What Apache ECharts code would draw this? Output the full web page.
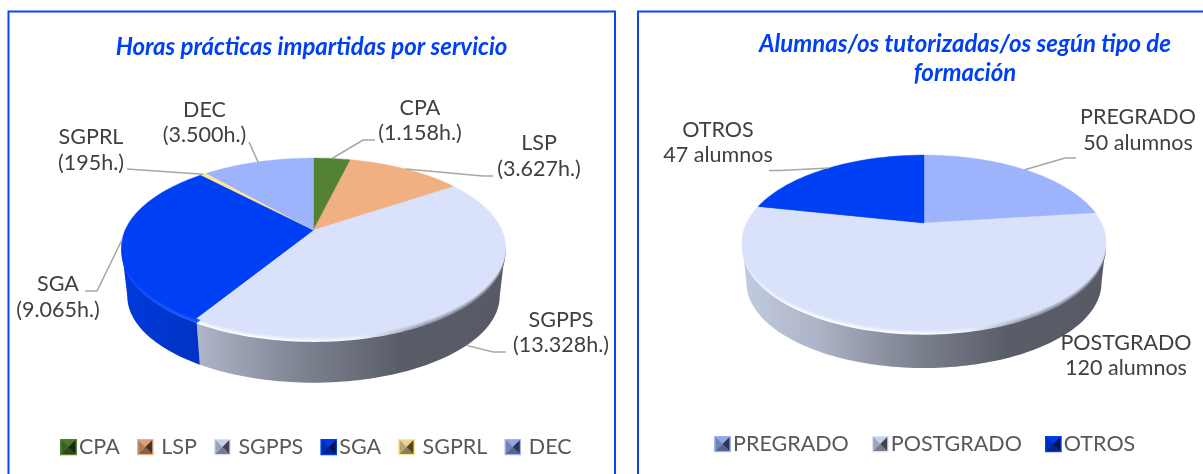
<!DOCTYPE html>
<html>
<head>
<meta charset="utf-8">
<style>html,body{margin:0;padding:0;background:#fff;overflow:hidden}#c{width:1203px;height:474px}</style>
<script src="https://cdn.jsdelivr.net/npm/echarts@6/dist/echarts.min.js"></script>
</head>
<body>
<div id="c"></div>
<script>
// ---- data ----
var serviceNames = ['CPA', 'LSP', 'SGPPS', 'SGA', 'SGPRL', 'DEC'];
var serviceHours = [1158, 3627, 13328, 9065, 195, 3500];
var trainingNames = ['PREGRADO', 'POSTGRADO', 'OTROS'];
var trainingStudents = [50, 120, 47];
var titleLeft = 'Horas prácticas impartidas por servicio';
var titleRight = 'Alumnas/os tutorizadas/os según tipo de\nformación';

// ---- styles ----
var serviceColors = ['#548235', '#F0B082', '#D9E2FA', '#0040F4', '#FFE699', '#9DB4FC'];
var trainingColors = ['#9DB4FC', '#D9E2FA', '#0040F4'];
var FONT = 'Lato';
var BLUE = '#0040F4';
var LABEL_SIZE = 21.5;

// ---- layout: perspective disc, label anchors and leader elbows ----
var pieA = { cx: 313.5, apexY: 230, Rx: 188.3, Ry: 86, p: 0.1955, s: 0.97, dz: 49, left: 121, right: 505 };
var pieB = { cx: 924, apexY: 223, Rx: 177.5, Ry: 83, p: 0.222, s: 0.975, dz: 41, left: 742, right: 1106 };
var serviceLabelAt = [[420, 120.5], [539, 156], [561, 332.5], [58, 297], [91, 150], [204.5, 122.5]];
var serviceLeaders = [
  [[363, 140], [375, 140]], [[483, 176], [493, 176]], [[493, 352], [506, 352]],
  [[97, 291], [85, 291]], [[127, 169]], [[249, 142]]
];
var serviceLeaderOnBase = [false, false, true, false, false, false];
var trainingLabelAt = [[1138, 130], [1126, 355.5], [718, 142.5]];
var trainingLeaders = [[[1065, 158], [1076, 158]], null, [[780, 170.5], [769, 170.5]]];
var trainingLeaderOnBase = [false, false, false];

function rgb(hex) {
  var n = parseInt(hex.slice(1), 16);
  return [(n >> 16) & 255, (n >> 8) & 255, n & 255];
}
function css(c) { return 'rgb(' + c.map(function (v) { return Math.max(0, Math.min(255, Math.round(v))); }).join(',') + ')'; }
function times(hex, f) { return css(rgb(hex).map(function (v) { return v * f; })); }
function plus(hex, a) { return css(rgb(hex).map(function (v) { return v + a; })); }

function project(pie, deg, shift, onBase) {
  var t = deg * Math.PI / 180, X = Math.sin(t), Y = Math.cos(t), w = 1 + pie.p * Y;
  var sc = onBase ? pie.s : 1;
  return [pie.cx + pie.Rx * X / w * sc, pie.apexY + shift + (onBase ? pie.dz : 0) - pie.Ry * Y / w * sc];
}
function arcAngles(a, b) {
  var out = [], n = Math.max(2, Math.ceil((b - a) / 1.5));
  for (var i = 0; i <= n; i++) out.push(a + (b - a) * i / n);
  return out;
}
function topPoly(pie, a, b, shift) {
  var pts = arcAngles(a, b).map(function (d) { return project(pie, d, shift, false); });
  pts.push([pie.cx, pie.apexY + shift]);
  return pts;
}
function hGrad(pie, stops) {
  return new echarts.graphic.LinearGradient(pie.left, 0, pie.right, 0, stops, true);
}
function spans(values) {
  var total = values.reduce(function (s, v) { return s + v; }, 0), c = 0;
  return values.map(function (v) { var a = c; c += v; return [a / total * 360, c / total * 360]; });
}

// side wall of the disc
function wallSeries(pie, values, colors) {
  var sp = spans(values);
  // silhouette angle of the projected disc: only the part between them faces the viewer
  var edge = 90 + Math.asin(pie.p) * 180 / Math.PI;
  return {
    type: 'custom', coordinateSystem: 'none', silent: true, z: 1, animation: false, data: values,
    renderItem: function (params) {
      var i = params.dataIndex, a = Math.max(sp[i][0], edge), b = Math.min(sp[i][1], 360 - edge);
      if (b <= a) return { type: 'group', children: [] };
      var ang = arcAngles(a, b);
      var pts = ang.map(function (d) { return project(pie, d, 0, false); })
        .concat(ang.slice().reverse().map(function (d) { return project(pie, d, 0, true); }));
      var c = colors[i];
      return { type: 'polygon', shape: { points: pts }, style: {
        fill: hGrad(pie, [
          { offset: 0, color: times(c, 0.9) }, { offset: 0.2, color: times(c, 0.8) },
          { offset: 0.47, color: times(c, 0.58) }, { offset: 0.73, color: times(c, 0.41) },
          { offset: 1, color: times(c, 0.40) }]) } };
    }
  };
}

// soft bevel band under the top face
function bevelSeries(pie, values, colors) {
  var sp = spans(values);
  return {
    type: 'custom', coordinateSystem: 'none', silent: true, z: 2, animation: false, data: values,
    renderItem: function (params) {
      var i = params.dataIndex, a = sp[i][0], b = sp[i][1], c = colors[i], kids = [];
      kids.push({ type: 'polygon', shape: { points: topPoly(pie, a, b, 5) }, style: {
        fill: hGrad(pie, [
          { offset: 0, color: plus(c, 10) }, { offset: 0.12, color: plus(c, 30) }, { offset: 0.42, color: plus(c, 45) },
          { offset: 0.62, color: plus(c, 22) }, { offset: 0.78, color: times(c, 0.68) },
          { offset: 1, color: times(c, 0.46) }]) } });
      [[4, 0.2], [3, 0.3], [2, 0.4], [1, 0.6]].forEach(function (l) {
        kids.push({ type: 'polygon', shape: { points: topPoly(pie, a, b, l[0]) }, style: { fill: c, opacity: l[1] } });
      });
      return { type: 'group', children: kids };
    }
  };
}

// top face, leader line and label of each slice
function sliceSeries(pie, names, values, colors, labels, labelAt, leaders, onBase) {
  var sp = spans(values);
  return names.map(function (name, i) {
    return {
      type: 'custom', name: name, coordinateSystem: 'none', silent: true, z: 3, animation: false, data: [values[i]],
      renderItem: function () {
        var a = sp[i][0], b = sp[i][1], c = colors[i], kids = [];
        kids.push({ type: 'polygon', shape: { points: topPoly(pie, a, b, 0) }, style: { fill: c, stroke: c, lineWidth: 0.4 } });
        if (leaders[i]) {
          var start = project(pie, (a + b) / 2, 0, onBase[i]);
          kids.push({ type: 'polyline', z2: 4, shape: { points: [start].concat(leaders[i]) }, style: { fill: null, stroke: '#A6A6A6', lineWidth: 1.5 } });
        }
        kids.push({ type: 'text', z2: 5, style: {
          text: labels[i], x: labelAt[i][0], y: labelAt[i][1], align: 'center', verticalAlign: 'middle',
          font: LABEL_SIZE + 'px ' + FONT, lineHeight: 25.5, fill: '#404040' } });
        return { type: 'group', children: kids };
      }
    };
  });
}

function fmtThousands(v) { return String(v).replace(/\B(?=(\d{3})+$)/g, '.'); }
var serviceLabels = serviceNames.map(function (n, i) { return n + '\n(' + fmtThousands(serviceHours[i]) + 'h.)'; });
var trainingLabels = trainingNames.map(function (n, i) { return n + '\n' + trainingStudents[i] + ' alumnos'; });

function bevelIcon(hex) {
  var t = function (pts, col) { return "<polygon points='" + pts + "' fill='" + col + "'/>"; };
  var svg = "<svg xmlns='http://www.w3.org/2000/svg' width='34' height='34' viewBox='0 0 17 17'>" +
    "<rect width='17' height='17' fill='" + hex + "'/>" +
    t('1.5,1.5 15.5,1.5 8.5,8.5', times(hex, 0.92)) +
    t('1.5,1.5 1.5,15.5 8.5,8.5', times(hex, 0.72)) +
    t('1.5,15.5 15.5,15.5 8.5,8.5', times(hex, 0.55)) +
    t('15.5,1.5 15.5,15.5 8.5,8.5', times(hex, 0.3)) + '</svg>';
  return 'image://data:image/svg+xml;charset=utf-8,' + encodeURIComponent(svg);
}
function legendFor(names, colors, left, top, spaced, gap) {
  return {
    left: left, top: top, orient: 'horizontal', itemWidth: 17, itemHeight: 17, itemGap: gap, selectedMode: false,
    padding: 0,
    textStyle: { fontFamily: FONT, fontSize: LABEL_SIZE, color: '#595959', padding: [0, 0, 0, -3] },
    formatter: function (n) { return spaced.indexOf(n) >= 0 ? ' ' + n : n; },
    data: names.map(function (n, i) { return { name: n, icon: bevelIcon(colors[i]) }; })
  };
}

var chart = echarts.init(document.getElementById('c'), null, { renderer: 'canvas' });
chart.setOption({
  backgroundColor: '#fff',
  animation: false,
  title: [
    { text: titleLeft, left: 311.5, top: 33, textAlign: 'center', padding: 0,
      textStyle: { fontFamily: FONT, fontSize: 24, fontStyle: 'italic', fontWeight: 'bold', color: BLUE, lineHeight: 29 } },
    { text: titleRight, left: 965, top: 29.5, textAlign: 'center', padding: 0,
      textStyle: { fontFamily: FONT, fontSize: 24, fontStyle: 'italic', fontWeight: 'bold', color: BLUE, lineHeight: 29 } }
  ],
  graphic: [
    { type: 'rect', silent: true, z: 0, shape: { x: 8.5, y: 11.5, width: 606.5, height: 480 }, style: { fill: null, stroke: '#0A46F5', lineWidth: 2 } },
    { type: 'rect', silent: true, z: 0, shape: { x: 638, y: 11.5, width: 600, height: 480 }, style: { fill: null, stroke: '#0A46F5', lineWidth: 2 } }
  ],
  legend: [
    legendFor(serviceNames, serviceColors, 60, 436, ['LSP', 'SGPPS', 'SGPRL', 'DEC'], 17),
    legendFor(trainingNames, trainingColors, 714, 433, [], 23)
  ],
  series: [
    wallSeries(pieA, serviceHours, serviceColors), wallSeries(pieB, trainingStudents, trainingColors),
    bevelSeries(pieA, serviceHours, serviceColors), bevelSeries(pieB, trainingStudents, trainingColors)
  ]
    .concat(sliceSeries(pieA, serviceNames, serviceHours, serviceColors, serviceLabels, serviceLabelAt, serviceLeaders, serviceLeaderOnBase))
    .concat(sliceSeries(pieB, trainingNames, trainingStudents, trainingColors, trainingLabels, trainingLabelAt, trainingLeaders, trainingLeaderOnBase))
});
</script>
</body>
</html>
